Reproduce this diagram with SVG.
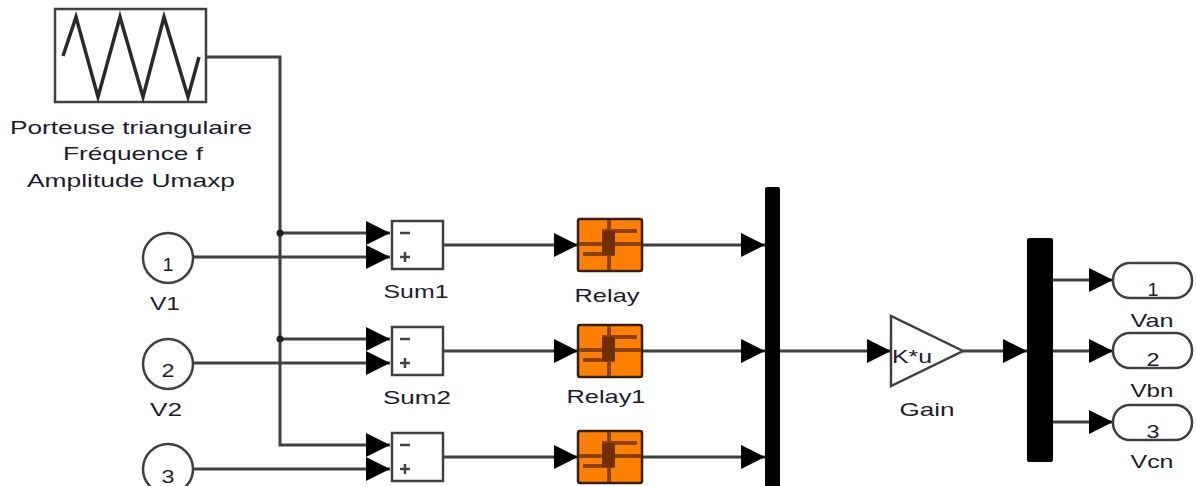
<svg xmlns="http://www.w3.org/2000/svg" width="1196" height="486" viewBox="0 0 1196 486">
<defs>
<style>
.ln{fill:none;stroke:#404040;stroke-width:3}
.blk{fill:#fff;stroke:#404040;stroke-width:2.5}
.t{font-family:"Liberation Sans",Arial,sans-serif;font-size:19px;fill:#1c1c2c}
.relay{fill:#ff8000;stroke:#3a2000;stroke-width:2.5}
.rl{stroke:#8a4200;stroke-width:4;fill:none}
.bus{fill:#000}
</style>
<marker id="ah" viewBox="0 0 24 24" refX="24" refY="12" markerWidth="24" markerHeight="24" markerUnits="userSpaceOnUse" orient="auto">
<path d="M0,0 L24,12 L0,24 Z" fill="#000"/>
</marker>
<g id="relayIcon">
<rect class="relay" x="0" y="0" width="64" height="52" rx="2"/>
<line class="rl" x1="31" y1="1" x2="31" y2="51"/>
<line class="rl" x1="1" y1="25" x2="63" y2="25"/>
<line class="rl" x1="24" y1="12" x2="59" y2="12"/>
<line class="rl" x1="5" y1="35" x2="37" y2="35"/>
<rect x="24" y="12" width="13" height="24" rx="2" fill="#6e3000"/>
</g>
</defs>
<rect width="1196" height="486" fill="#fff"/>

<g id="connectors">
<polyline class="ln" points="206,57 280,57 280,445 390,445" marker-end="url(#ah)"/>
<line class="ln" x1="280" y1="233" x2="390" y2="233" marker-end="url(#ah)"/>
<line class="ln" x1="280" y1="339" x2="390" y2="339" marker-end="url(#ah)"/>
<circle cx="280" cy="233" r="3.5" fill="#222"/>
<circle cx="280" cy="339" r="3.5" fill="#222"/>
<line class="ln" x1="193" y1="257" x2="390" y2="257" marker-end="url(#ah)"/>
<line class="ln" x1="193" y1="363" x2="390" y2="363" marker-end="url(#ah)"/>
<line class="ln" x1="193" y1="469" x2="390" y2="469" marker-end="url(#ah)"/>
<line class="ln" x1="443" y1="245" x2="578" y2="245" marker-end="url(#ah)"/>
<line class="ln" x1="443" y1="351" x2="578" y2="351" marker-end="url(#ah)"/>
<line class="ln" x1="443" y1="457" x2="578" y2="457" marker-end="url(#ah)"/>
<line class="ln" x1="642" y1="245" x2="765" y2="245" marker-end="url(#ah)"/>
<line class="ln" x1="642" y1="351" x2="765" y2="351" marker-end="url(#ah)"/>
<line class="ln" x1="642" y1="457" x2="765" y2="457" marker-end="url(#ah)"/>
<line class="ln" x1="780" y1="351" x2="891" y2="351" marker-end="url(#ah)"/>
<line class="ln" x1="963" y1="351" x2="1027" y2="351" marker-end="url(#ah)"/>
<line class="ln" x1="1053" y1="280" x2="1113" y2="280" marker-end="url(#ah)"/>
<line class="ln" x1="1053" y1="351" x2="1113" y2="351" marker-end="url(#ah)"/>
<line class="ln" x1="1053" y1="422" x2="1113" y2="422" marker-end="url(#ah)"/>
</g>

<g id="carrier">
<rect class="blk" x="55" y="9" width="151" height="93"/>
<polyline fill="none" stroke="#2a2a2a" stroke-width="3.5" stroke-linejoin="miter" points="63,56 76,17 98,97 120,17 143,97 164,17 188,97 199,57"/>
<text class="t" x="131" y="134" text-anchor="middle" textLength="242" lengthAdjust="spacingAndGlyphs">Porteuse triangulaire</text>
<text class="t" x="133" y="160" text-anchor="middle" textLength="140" lengthAdjust="spacingAndGlyphs">Fréquence f</text>
<text class="t" x="131" y="187" text-anchor="middle" textLength="208" lengthAdjust="spacingAndGlyphs">Amplitude Umaxp</text>
</g>

<g id="V1">
<circle class="blk" cx="168" cy="258" r="25"/>
<text class="t" x="168" y="271" text-anchor="middle" textLength="11" lengthAdjust="spacingAndGlyphs">1</text>
<text class="t" x="165" y="310" text-anchor="middle" textLength="30" lengthAdjust="spacingAndGlyphs">V1</text>
</g>
<g id="V2">
<circle class="blk" cx="168" cy="364" r="25"/>
<text class="t" x="168" y="377" text-anchor="middle" textLength="13" lengthAdjust="spacingAndGlyphs">2</text>
<text class="t" x="166" y="416" text-anchor="middle" textLength="32" lengthAdjust="spacingAndGlyphs">V2</text>
</g>
<g id="V3">
<circle class="blk" cx="168" cy="469" r="25"/>
<text class="t" x="168" y="483" text-anchor="middle" textLength="13" lengthAdjust="spacingAndGlyphs">3</text>
</g>

<g id="Sum1">
<rect class="blk" x="392" y="221" width="51" height="48"/>
<line x1="400" y1="233" x2="410" y2="233" stroke="#444" stroke-width="2.5"/>
<path d="M400,257 H410 M405,252 V262" stroke="#444" stroke-width="2.5"/>
<text class="t" x="416" y="298" text-anchor="middle" textLength="65" lengthAdjust="spacingAndGlyphs">Sum1</text>
</g>
<g id="Sum2">
<rect class="blk" x="392" y="327" width="51" height="48"/>
<line x1="400" y1="339" x2="410" y2="339" stroke="#444" stroke-width="2.5"/>
<path d="M400,363 H410 M405,358 V368" stroke="#444" stroke-width="2.5"/>
<text class="t" x="417" y="404" text-anchor="middle" textLength="68" lengthAdjust="spacingAndGlyphs">Sum2</text>
</g>
<g id="Sum3">
<rect class="blk" x="392" y="433" width="51" height="48"/>
<line x1="400" y1="445" x2="410" y2="445" stroke="#444" stroke-width="2.5"/>
<path d="M400,469 H410 M405,464 V474" stroke="#444" stroke-width="2.5"/>
</g>

<g id="Relay">
<use href="#relayIcon" x="578" y="219"/>
<text class="t" x="607" y="302" text-anchor="middle" textLength="65" lengthAdjust="spacingAndGlyphs">Relay</text>
</g>
<g id="Relay1">
<use href="#relayIcon" x="578" y="325"/>
<text class="t" x="606" y="403" text-anchor="middle" textLength="79" lengthAdjust="spacingAndGlyphs">Relay1</text>
</g>
<g id="Relay2">
<use href="#relayIcon" x="578" y="431"/>
</g>

<g id="Mux">
<rect class="bus" x="765" y="187" width="15" height="305" rx="2"/>
</g>

<g id="Gain">
<polygon class="blk" points="891,316 891,386 963,351" stroke-linejoin="miter"/>
<text class="t" x="892" y="363" textLength="40" lengthAdjust="spacingAndGlyphs" fill="#1a3a8a">K*u</text>
<text class="t" x="927" y="416" text-anchor="middle" textLength="55" lengthAdjust="spacingAndGlyphs">Gain</text>
</g>

<g id="Demux">
<rect class="bus" x="1027" y="238" width="26" height="224" rx="2"/>
</g>

<g id="Van">
<rect class="blk" x="1113" y="263" width="79" height="35" rx="17"/>
<text class="t" x="1153" y="296" text-anchor="middle" textLength="11" lengthAdjust="spacingAndGlyphs">1</text>
<text class="t" x="1152" y="327" text-anchor="middle" textLength="43" lengthAdjust="spacingAndGlyphs">Van</text>
</g>
<g id="Vbn">
<rect class="blk" x="1113" y="333" width="79" height="35" rx="17"/>
<text class="t" x="1153" y="366" text-anchor="middle" textLength="13" lengthAdjust="spacingAndGlyphs">2</text>
<text class="t" x="1152" y="397" text-anchor="middle" textLength="43" lengthAdjust="spacingAndGlyphs">Vbn</text>
</g>
<g id="Vcn">
<rect class="blk" x="1113" y="405" width="79" height="35" rx="17"/>
<text class="t" x="1153" y="438" text-anchor="middle" textLength="13" lengthAdjust="spacingAndGlyphs">3</text>
<text class="t" x="1152" y="468" text-anchor="middle" textLength="43" lengthAdjust="spacingAndGlyphs">Vcn</text>
</g>
</svg>
